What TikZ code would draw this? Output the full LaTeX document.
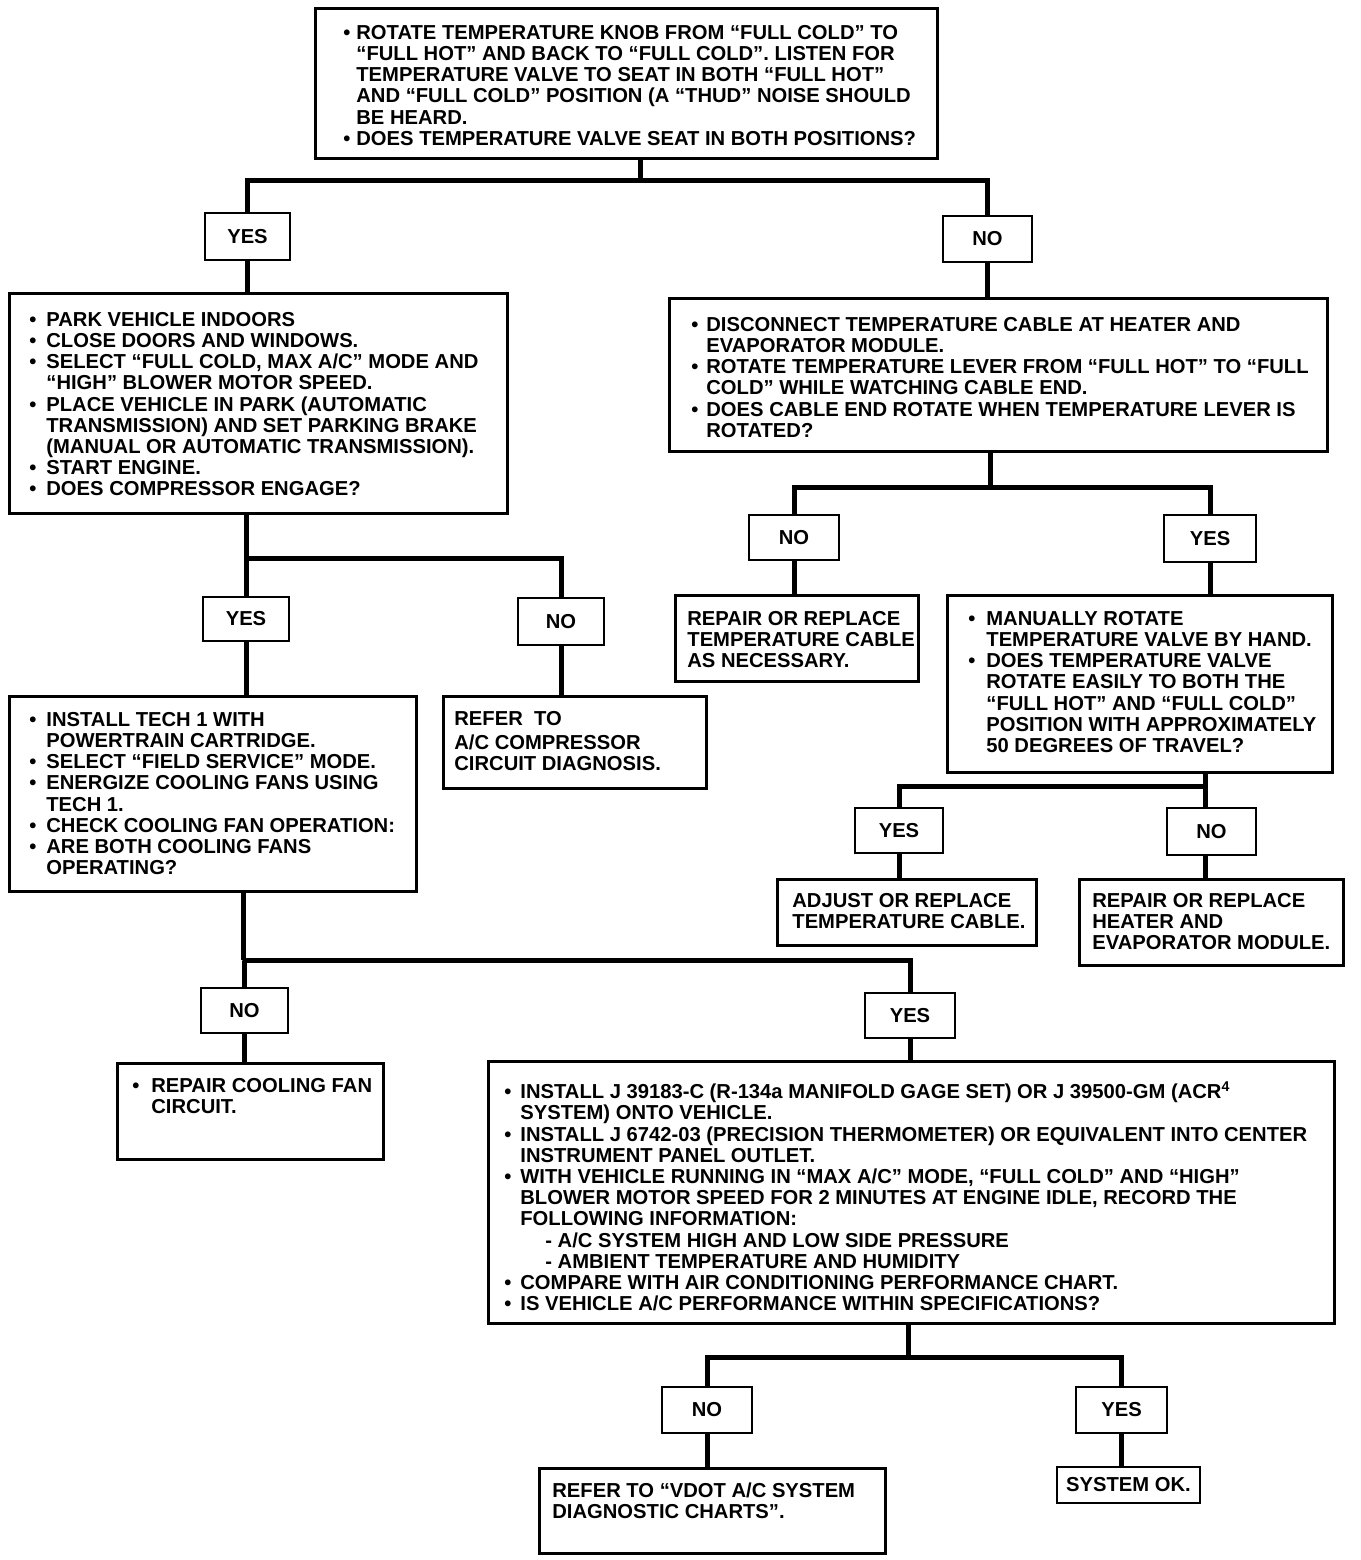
\documentclass[tikz,border=0pt]{standalone}
\usepackage{fontspec}
\setmainfont{Liberation Sans}
\usetikzlibrary{calc}

\newlength\bw \setlength\bw{14pt}
\newcommand{\pl}[1]{\mbox{\strut#1}\par}
\newcommand{\bl}[1]{\mbox{\strut\makebox[\bw][l]{•}#1}\par}
\newcommand{\cl}[1]{\mbox{\strut\hspace*{\bw}#1}\par}
\newcommand{\btext}[3]{\parbox[c][#2pt][t]{#1pt}{\parindent=0pt\bfseries\fontsize{20.2}{21.2}\selectfont #3}}

\begin{document}
\begin{tikzpicture}[x=1pt,y=-1pt,
  bigbox/.style={draw, line width=2.8pt, anchor=north west, inner sep=0pt, fill=white},
  lab/.style={draw, line width=2.8pt, inner sep=0pt, font=\bfseries\fontsize{20.2}{21.2}\selectfont, fill=white},
  conn/.style={line width=5pt}]
\useasboundingbox (0,0) rectangle (1360,1560);
\fill[white] (0,0) rectangle (1360,1560);

% ---- boxes ----
\node[bigbox, inner xsep=28pt, inner ysep=16pt] (T) at (314,7) {\btext{566}{118}{%
\setlength\bw{13pt}%
\bl{ROTATE TEMPERATURE KNOB FROM “FULL COLD” TO}
\cl{“FULL HOT” AND BACK TO “FULL COLD”. LISTEN FOR}
\cl{TEMPERATURE VALVE TO SEAT IN BOTH “FULL HOT”}
\cl{AND “FULL COLD” POSITION (A “THUD” NOISE SHOULD}
\cl{BE HEARD.}
\bl{DOES TEMPERATURE VALVE SEAT IN BOTH POSITIONS?}}};

\node[bigbox, inner xsep=20pt, inner ysep=18pt] (A) at (8,292) {\btext{458}{184}{%
\setlength\bw{17pt}%
\bl{PARK VEHICLE INDOORS}
\bl{CLOSE DOORS AND WINDOWS.}
\bl{SELECT “FULL COLD, MAX A/C” MODE AND}
\cl{“HIGH” BLOWER MOTOR SPEED.}
\bl{PLACE VEHICLE IN PARK (AUTOMATIC}
\cl{TRANSMISSION) AND SET PARKING BRAKE}
\cl{(MANUAL OR AUTOMATIC TRANSMISSION).}
\bl{START ENGINE.}
\bl{DOES COMPRESSOR ENGAGE?}}};

\node[bigbox, inner xsep=22pt, inner ysep=18pt] (B) at (668,297) {\btext{614}{117}{%
\setlength\bw{15pt}%
\bl{DISCONNECT TEMPERATURE CABLE AT HEATER AND}
\cl{EVAPORATOR MODULE.}
\bl{ROTATE TEMPERATURE LEVER FROM “FULL HOT” TO “FULL}
\cl{COLD” WHILE WATCHING CABLE END.}
\bl{DOES CABLE END ROTATE WHEN TEMPERATURE LEVER IS}
\cl{ROTATED?}}};

\node[bigbox, inner xsep=20pt, inner ysep=15pt] (C) at (8,695) {\btext{367}{165}{%
\setlength\bw{17pt}%
\bl{INSTALL TECH 1 WITH}
\cl{POWERTRAIN CARTRIDGE.}
\bl{SELECT “FIELD SERVICE” MODE.}
\bl{ENERGIZE COOLING FANS USING}
\cl{TECH 1.}
\bl{CHECK COOLING FAN OPERATION:}
\bl{ARE BOTH COOLING FANS}
\cl{OPERATING?}}};

\node[bigbox, inner xsep=11pt, inner ysep=14pt] (D) at (442,695) {\btext{241}{64}{%
\pl{REFER\ \ TO}\vspace{3pt}
\pl{A/C COMPRESSOR}
\pl{CIRCUIT DIAGNOSIS.}}};

\node[bigbox, inner xsep=12pt, inner ysep=15pt] (E) at (674,594) {\btext{219}{56}{%
\pl{REPAIR OR REPLACE}
\pl{TEMPERATURE CABLE}
\pl{AS NECESSARY.}}};

\node[bigbox, inner xsep=21pt, inner ysep=15pt] (F) at (946,594) {\btext{343}{147}{%
\setlength\bw{18pt}%
\bl{MANUALLY ROTATE}
\cl{TEMPERATURE VALVE BY HAND.}
\bl{DOES TEMPERATURE VALVE}
\cl{ROTATE EASILY TO BOTH THE}
\cl{“FULL HOT” AND “FULL COLD”}
\cl{POSITION WITH APPROXIMATELY}
\cl{50 DEGREES OF TRAVEL?}}};

\node[bigbox, inner xsep=15pt, inner ysep=13pt] (G) at (776,878) {\btext{229}{40}{%
\pl{ADJUST OR REPLACE}
\pl{TEMPERATURE CABLE.}}};

\node[bigbox, inner xsep=13pt, inner ysep=13pt] (H) at (1078,878) {\btext{238}{60}{%
\pl{REPAIR OR REPLACE}
\pl{HEATER AND}
\pl{EVAPORATOR MODULE.}}};

\node[bigbox, inner xsep=15pt, inner ysep=14pt] (I) at (116,1062) {\btext{236}{68}{%
\setlength\bw{19pt}%
\bl{REPAIR COOLING FAN}
\cl{CIRCUIT.}}};

\node[bigbox, inner xsep=16pt, inner ysep=20pt] (J) at (487,1060) {\btext{814}{222}{%
\setlength\bw{16pt}%
\bl{INSTALL J 39183-C (R-134a MANIFOLD GAGE SET) OR J 39500-GM (ACR\textsuperscript{4}}
\cl{SYSTEM) ONTO VEHICLE.}
\bl{INSTALL J 6742-03 (PRECISION THERMOMETER) OR EQUIVALENT INTO CENTER}
\cl{INSTRUMENT PANEL OUTLET.}
\bl{WITH VEHICLE RUNNING IN “MAX A/C” MODE, “FULL COLD” AND “HIGH”}
\cl{BLOWER MOTOR SPEED FOR 2 MINUTES AT ENGINE IDLE, RECORD THE}
\cl{FOLLOWING INFORMATION:}
\cl{\hspace*{25pt}- A/C SYSTEM HIGH AND LOW SIDE PRESSURE}
\cl{\hspace*{25pt}- AMBIENT TEMPERATURE AND HUMIDITY}
\bl{COMPARE WITH AIR CONDITIONING PERFORMANCE CHART.}
\bl{IS VEHICLE A/C PERFORMANCE WITHIN SPECIFICATIONS?}}};

\node[bigbox, inner xsep=13pt, inner ysep=14pt] (K) at (538,1467) {\btext{320}{57}{%
\pl{REFER TO “VDOT A/C SYSTEM}
\pl{DIAGNOSTIC CHARTS”.}}};

\node[lab, minimum width=143pt, minimum height=36pt] (L) at (1128.5,1485) {SYSTEM OK.};

% ---- YES / NO labels ----
\node[lab, minimum width=85pt, minimum height=47pt] (Y1) at (247.5,236.5) {YES};
\node[lab, minimum width=89pt, minimum height=46pt] (N1) at (987.5,239) {NO};
\node[lab, minimum width=86pt, minimum height=44pt] (Y2) at (246,619) {YES};
\node[lab, minimum width=86pt, minimum height=47pt] (N2) at (561,621.5) {NO};
\node[lab, minimum width=90pt, minimum height=45pt] (N3) at (794,537.5) {NO};
\node[lab, minimum width=92pt, minimum height=47pt] (Y3) at (1210,538.5) {YES};
\node[lab, minimum width=88pt, minimum height=45pt] (Y4) at (899,830.5) {YES};
\node[lab, minimum width=89pt, minimum height=47pt] (N4) at (1211.5,831.5) {NO};
\node[lab, minimum width=87pt, minimum height=45pt] (N5) at (244.5,1010.5) {NO};
\node[lab, minimum width=90pt, minimum height=45pt] (Y5) at (910,1015.5) {YES};
\node[lab, minimum width=90pt, minimum height=46pt] (N6) at (707,1410) {NO};
\node[lab, minimum width=91pt, minimum height=46pt] (Y6) at (1121.5,1410) {YES};

% ---- junctions ----
\coordinate (j1) at (640,180);
\coordinate (j2) at (246,558);
\coordinate (j3) at (990,487);
\coordinate (j4) at (1205,786);
\coordinate (j5) at (243,960);
\coordinate (j6) at (908,1357);

% ---- connectors ----
\draw[conn] (T.south -| j1) -- (j1);
\draw[conn] (Y1.north) |- (j1) -| (N1.north);
\draw[conn] (Y1.south) -- (Y1.south |- A.north);
\draw[conn] (N1.south) -- (N1.south |- B.north);

\draw[conn] (A.south -| j2) -- (j2);
\draw[conn] (Y2.north) |- (j2) -| (N2.north);
\draw[conn] (Y2.south) -- (Y2.south |- C.north);
\draw[conn] (N2.south) -- (N2.south |- D.north);

\draw[conn] (B.south -| j3) -- (j3);
\draw[conn] (N3.north) |- (j3) -| (Y3.north);
\draw[conn] (N3.south) -- (N3.south |- E.north);
\draw[conn] (Y3.south) -- (Y3.south |- F.north);

\draw[conn] (F.south -| j4) -- (j4) -- (j4 |- N4.north);
\draw[conn] (Y4.north) |- (j4);
\draw[conn] (Y4.south) -- (Y4.south |- G.north);
\draw[conn] (j4 |- N4.south) -- (j4 |- H.north);

\draw[conn] (C.south -| j5) -- (j5);
\draw[conn] (N5.north) |- (j5) -| (Y5.north);
\draw[conn] (N5.south) -- (N5.south |- I.north);
\draw[conn] (Y5.south) -- (Y5.south |- J.north);

\draw[conn] (J.south -| j6) -- (j6);
\draw[conn] (N6.north) |- (j6) -| (Y6.north);
\draw[conn] (N6.south) -- (N6.south |- K.north);
\draw[conn] (Y6.south) -- (Y6.south |- L.north);
\end{tikzpicture}
\end{document}
